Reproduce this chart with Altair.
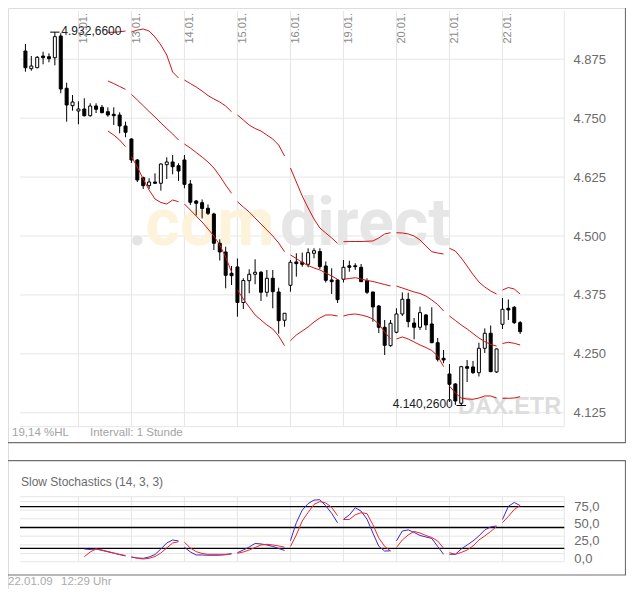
import altair as alt
import pandas as pd

# ---------------- data ----------------
opens = [4892.6, 4855.1, 4857.2, 4882.0, 4880.5, 4878.4, 4924.4, 4813.5, 4776.5,
         4765.3, 4769.5, 4755.3, 4775.9, 4773.1, 4763.8, 4758.3, 4756.8, 4733.5,
         4705.9, 4661.3, 4623.8, 4606.8, 4614.6, 4611.9, 4651.3, 4657.1, 4649.2,
         4661.3, 4610.4, 4574.3, 4570.7, 4558.8, 4546.7, 4484.6, 4466.1, 4420.9,
         4434.3, 4358.9, 4405.2, 4418.8, 4423.0, 4380.6, 4410.3, 4381.2, 4321.2,
         4395.4, 4444.9, 4444.2, 4440.0, 4463.3, 4467.2, 4436.4, 4406.7, 4406.7,
         4408.2, 4436.8, 4436.8, 4433.6, 4405.2, 4381.2, 4351.5, 4306.3, 4267.3,
         4295.7, 4334.5, 4365.7, 4315.4, 4306.3, 4332.4, 4313.3, 4273.6, 4240.5,
         4207.2, 4186.0, 4145.0, 4222.7, 4222.1, 4210.0, 4261.7, 4293.6, 4211.5,
         4312.7, 4346.6, 4348.7, 4316.1]
highs = [4907.5, 4882.0, 4882.0, 4891.1, 4887.7, 4932.66, 4930.2, 4825.3, 4799.2,
         4785.9, 4792.2, 4781.6, 4781.6, 4778.0, 4773.1, 4773.1, 4762.5, 4742.6,
         4707.4, 4663.4, 4625.9, 4622.5, 4633.1, 4654.3, 4667.0, 4671.9, 4654.3,
         4671.9, 4618.9, 4576.4, 4577.5, 4566.9, 4549.5, 4493.0, 4477.3, 4436.4,
         4452.3, 4410.3, 4429.4, 4450.6, 4425.8, 4427.9, 4427.9, 4390.3, 4336.6,
         4449.1, 4463.3, 4464.6, 4473.9, 4473.9, 4473.9, 4445.9, 4431.5, 4407.7,
         4449.1, 4447.6, 4442.1, 4440.6, 4410.3, 4381.8, 4353.6, 4321.8, 4321.8,
         4346.6, 4380.2, 4379.7, 4326.0, 4350.0, 4334.5, 4348.7, 4283.6, 4258.1,
         4228.4, 4187.5, 4224.2, 4236.9, 4234.8, 4273.6, 4303.8, 4310.1, 4261.3,
         4368.5, 4365.3, 4351.5, 4319.4]
lows = [4848.7, 4850.8, 4856.0, 4864.4, 4868.6, 4862.3, 4802.9, 4742.6, 4765.9,
        4737.1, 4753.6, 4753.2, 4761.0, 4760.4, 4753.2, 4735.6, 4718.0, 4709.5,
        4655.0, 4614.6, 4599.8, 4599.8, 4610.4, 4596.2, 4621.0, 4631.0, 4616.8,
        4601.3, 4565.8, 4543.6, 4537.2, 4544.6, 4470.3, 4448.0, 4389.0, 4396.0,
        4328.8, 4345.1, 4378.5, 4397.6, 4362.1, 4371.2, 4346.6, 4292.7, 4307.6,
        4381.8, 4413.7, 4434.9, 4433.6, 4452.7, 4430.0, 4401.4, 4377.0, 4357.9,
        4401.4, 4424.3, 4427.9, 4402.4, 4377.0, 4318.2, 4294.2, 4247.5, 4265.1,
        4293.6, 4330.3, 4306.3, 4280.8, 4300.6, 4300.6, 4272.4, 4233.7, 4229.9,
        4147.8, 4141.5, 4140.26, 4190.2, 4207.2, 4201.9, 4251.8, 4211.0, 4209.4,
        4302.7, 4321.8, 4313.3, 4292.1]
closes = [4857.2, 4860.8, 4879.2, 4878.4, 4876.3, 4923.0, 4812.0, 4778.0, 4784.4,
          4769.5, 4755.3, 4775.9, 4768.9, 4761.7, 4756.8, 4755.3, 4733.5, 4720.1,
          4661.3, 4618.9, 4606.8, 4614.6, 4611.9, 4652.8, 4657.1, 4647.1, 4638.0,
          4609.7, 4571.6, 4569.4, 4558.4, 4548.2, 4484.6, 4466.1, 4416.6, 4415.8,
          4358.9, 4405.6, 4418.8, 4423.0, 4380.6, 4410.3, 4381.8, 4320.3, 4336.0,
          4444.2, 4441.3, 4440.0, 4464.6, 4468.8, 4434.9, 4406.0, 4403.1, 4364.9,
          4433.6, 4433.6, 4434.9, 4403.1, 4380.6, 4349.4, 4306.3, 4268.1, 4314.8,
          4334.5, 4365.7, 4318.2, 4306.3, 4337.3, 4311.2, 4273.6, 4238.4, 4236.9,
          4185.3, 4149.9, 4222.7, 4219.3, 4210.0, 4261.7, 4293.6, 4212.1, 4260.3,
          4344.5, 4343.0, 4316.1, 4297.0]

candles_per_day = 9
day_names = ["09.01.", "12.01.", "13.01.", "14.01.", "15.01.", "16.01.",
             "19.01.", "20.01.", "21.01.", "22.01."]

band_start = 14
upper_band = [4932.3, 4932.3, 4933.5, 4935.0,
              4932.9, 4937.1, 4939.3, 4935.0, 4922.3, 4905.3, 4884.1, 4848.0, 4835.3,
              4831.0, 4823.6, 4816.2, 4807.7, 4798.1, 4790.7, 4784.4, 4775.9, 4763.8,
              4756.8, 4746.2, 4735.5, 4728.1, 4722.8, 4714.3, 4705.8, 4693.1, 4669.8,
              4644.3, 4614.6, 4584.9, 4559.4, 4536.1, 4517.0, 4506.4, 4495.8, 4484.5,
              4487.9, 4488.3, 4488.3, 4488.3, 4488.8, 4489.4, 4495.8, 4504.3, 4507.0,
              4507.0, 4506.4, 4504.3, 4500.0, 4491.5, 4478.8, 4466.7, 4463.9, 4461.8,
              4473.9, 4468.2, 4453.3, 4436.3, 4418.3, 4402.4, 4391.8, 4383.3, 4376.9,
              4385.4, 4390.7, 4387.5, 4376.9]
middle_band = [4828.9, 4823.6, 4817.2, 4811.3,
               4800.7, 4788.6, 4776.5, 4764.2, 4752.5, 4739.8, 4728.1, 4716.5, 4703.7,
               4695.2, 4686.7, 4677.2, 4667.6, 4657.0, 4644.3, 4627.3, 4608.2, 4590.6,
               4572.8, 4561.5, 4550.9, 4538.2, 4525.5, 4512.7, 4500.0, 4485.2, 4466.7,
               4459.7, 4452.3, 4443.8, 4437.4, 4432.1, 4427.9, 4421.5, 4415.1, 4408.1,
               4408.1, 4409.8, 4411.5, 4408.8, 4405.6, 4403.5, 4400.3, 4397.1, 4393.9,
               4393.9, 4389.7, 4385.4, 4381.2, 4378.0, 4372.7, 4364.2, 4354.6, 4340.9,
               4330.2, 4320.7, 4311.1, 4302.7, 4293.1, 4283.6, 4276.1, 4269.8, 4266.6,
               4271.9, 4274.4, 4272.3, 4268.7]
lower_band = [4722.8, 4714.3, 4703.7, 4689.5,
              4668.3, 4646.4, 4621.0, 4597.6, 4578.5, 4571.1, 4567.9, 4576.4, 4572.8,
              4567.9, 4555.2, 4542.4, 4529.7, 4514.9, 4500.0, 4480.9, 4455.4, 4423.6,
              4385.4, 4366.3, 4349.3, 4332.4, 4321.8, 4311.1, 4302.7, 4287.8, 4267.2,
              4277.8, 4289.9, 4298.4, 4306.9, 4317.5, 4326.0, 4332.4, 4332.4, 4330.2,
              4330.2, 4333.4, 4334.5, 4332.4, 4329.2, 4323.9, 4313.3, 4296.3, 4281.4,
              4281.4, 4285.7, 4281.4, 4275.1, 4268.7, 4263.4, 4257.0, 4245.4, 4222.7,
              4181.7, 4166.9, 4156.2, 4154.1, 4153.5, 4156.2, 4160.5, 4160.5, 4156.2,
              4155.6, 4155.6, 4156.2, 4159.0]

stoch_start = 10
stoch_k = [19.0, 18.3, 19.0, 17.0, 15.0, 13.0, 11.0, 9.0,
           7.1, 6.1, 5.6, 7.5, 11.1, 19.0, 27.7, 32.0, 30.6,
           21.5, 14.7, 10.4, 10.4, 10.0, 10.0, 10.0, 10.8, 12.6,
           13.7, 17.6, 21.9, 27.0, 26.3, 24.8, 22.7, 19.8, 16.9,
           31.0, 57.0, 75.0, 84.5, 89.5, 90.0, 81.2, 70.5, 56.8,
           62.0, 68.0, 78.5, 73.5, 62.0, 42.0, 23.0, 16.0, 16.5,
           30.6, 45.0, 46.5, 42.9, 38.5, 36.4, 34.2, 22.7, 11.4,
           11.4, 11.4, 19.0, 24.8, 30.6, 37.8, 46.5, 50.8, 52.2,
           61.6, 80.4, 86.1, 81.5]
stoch_d = [7.9, 14.7, 19.0, 17.6, 15.4, 13.3, 11.1, 9.7,
           7.9, 5.6, 4.6, 5.6, 8.2, 13.3, 20.5, 27.7, 29.6,
           28.7, 20.5, 15.2, 12.6, 11.4, 11.4, 11.4, 11.4, 11.8,
           12.8, 14.7, 17.6, 21.2, 24.8, 25.8, 24.8, 23.4, 21.5,
           22.7, 39.3, 59.5, 71.7, 83.3, 87.3, 85.4, 78.9, 67.1,
           61.5, 61.5, 68.3, 71.3, 70.0, 54.0, 35.0, 22.7, 16.2,
           21.2, 32.0, 39.3, 44.3, 42.1, 38.5, 35.6, 30.6, 20.1,
           13.7, 11.4, 14.0, 17.6, 23.4, 32.0, 37.8, 44.3, 51.2,
           57.0, 65.9, 76.0, 81.5]

price_ticks = [4125, 4250, 4375, 4500, 4625, 4750, 4875]
stoch_ticks = [0, 25, 50, 75]
stoch_levels = [20, 50, 80]
stoch_grid = [12.5, 25, 37.5, 62.5, 75, 87.5]
extremes_idx = [5, 74]
extremes_val = [4932.66, 4140.26]

# ---------------- tables ----------------
n = len(opens)
cdf = pd.DataFrame({"idx": list(range(n)), "open": opens, "high": highs,
                    "low": lows, "close": closes})

rows = []
for name, vals in (("upper", upper_band), ("middle", middle_band), ("lower", lower_band)):
    for k, v in enumerate(vals):
        i = band_start + k
        rows.append({"idx": i, "value": v, "band": name, "day": i // candles_per_day})
bdf = pd.DataFrame(rows)


def stoch_frame(vals):
    return pd.DataFrame([{"idx": stoch_start + k, "value": v,
                          "day": (stoch_start + k) // candles_per_day}
                         for k, v in enumerate(vals)])


kdf = stoch_frame(stoch_k)
ddf_s = stoch_frame(stoch_d)

day_starts = [candles_per_day * d for d in range(len(day_names))]
labels_df = pd.DataFrame({"idx": day_starts[1:], "label": day_names[1:]})

XMIN, XMAX = -0.92, 91.5
PMIN, PMAX = 4095.3, 4977.5
SMIN, SMAX = 0.7, 94.4
gridx_df = pd.DataFrame({"idx": day_starts[1:] + [XMAX]})
hgrid_p = pd.DataFrame({"v": price_ticks + [PMIN]})
hgrid_s = pd.DataFrame({"v": stoch_grid + [SMIN, SMAX]})
levels_df = pd.DataFrame({"v": stoch_levels})


def de_fmt(v):
    s = f"{v:,.4f}"
    return s.replace(",", "X").replace(".", ",").replace("X", ".")


ext_df = pd.DataFrame({"idx": extremes_idx, "price": extremes_val,
                       "label": [de_fmt(v) for v in extremes_val]})
one = pd.DataFrame({"d": [0]})

# ---------------- layout (page coords minus the 8px body margin) ----------------
W, H = 618, 581
OX, OY = -8, -8


def px(x):
    return x + OX


def py(y):
    return y + OY


X = alt.Scale(domain=[XMIN, XMAX], range=[px(15), px(569.3)], nice=False, zero=False)
YP = alt.Scale(domain=[PMIN, PMAX], range=[py(426.7), py(11)], nice=False, zero=False)
YS = alt.Scale(domain=[0, 100], range=[py(562.2), py(492.8)], nice=False, zero=False)
GRID = "#e6e6e6"
LBL = "#6b6b6b"
AX_OFF = px(569.3) - W

axP = alt.Axis(orient="right", offset=AX_OFF, values=price_ticks, grid=False,
               domain=False, ticks=False, labelPadding=3.7, labelFontSize=13,
               labelColor=LBL, title=None,
               labelExpr="replace(format(datum.value, ',.0f'), ',', '.')")
axS = alt.Axis(orient="right", offset=AX_OFF, values=stoch_ticks, grid=False,
               domain=False, ticks=False, labelPadding=4.5, labelOffset=-4,
               labelFontSize=13, labelColor=LBL, title=None,
               labelExpr="replace(format(datum.value, '.1f'), '.', ',')")

xi = alt.X("idx:Q", scale=X, axis=None)


def text_at(txt, x, y, size, color, weight="normal", font="Liberation Sans", align="left"):
    return alt.Chart(one).mark_text(text=txt, align=align, baseline="alphabetic",
                                    fontSize=size, color=color, fontWeight=weight,
                                    font=font).encode(x=alt.value(x), y=alt.value(y))


def frame(x1, x2, y1, y2):
    return alt.Chart(one).mark_rect(fillOpacity=0, stroke="#707070", strokeWidth=1.2).encode(
        x=alt.value(x1), x2=alt.value(x2), y=alt.value(y1), y2=alt.value(y2))


# ---------------- price panel ----------------
p_hgrid = alt.Chart(hgrid_p).mark_rule(color=GRID, strokeWidth=1).encode(
    y=alt.Y("v:Q", scale=YP, axis=axP),
    x=alt.XDatum(XMIN, axis=None), x2=alt.X2Datum(XMAX))
p_vgrid = alt.Chart(gridx_df).mark_rule(color=GRID, strokeWidth=1).encode(
    x=xi, y=alt.YDatum(PMAX, axis=axP), y2=alt.Y2Datum(PMIN))

wm_font = "Roboto"
wm = [
    text_at(".", px(128), py(245), 66, "#e4e4e4", "bold", wm_font),
    text_at("com", px(145.5), py(245), 66, "#fdf3da", "bold", wm_font),
    text_at("direct", px(280), py(245), 66, "#e6e6e6", "bold", wm_font),
    text_at("DAX.ETR", px(458), py(414), 23.5, "#dddddd", "bold"),
]

bands = alt.Chart(bdf).mark_line(color="#d41414", strokeWidth=1).encode(
    x=xi, y=alt.Y("value:Q", scale=YP, axis=axP), detail=["band:N", "day:Q"])

wicks = alt.Chart(cdf).mark_rule(color="black", strokeWidth=1).encode(
    x=xi, y=alt.Y("low:Q", scale=YP, axis=axP), y2="high:Q")
bodies = alt.Chart(cdf).mark_bar(size=3, stroke="black", strokeWidth=1).encode(
    x=xi, y=alt.Y("open:Q", scale=YP, axis=axP), y2="close:Q",
    fill=alt.condition(alt.datum.close >= alt.datum.open,
                       alt.value("white"), alt.value("black")))

markers = alt.Chart(ext_df).transform_calculate(
    a="datum.idx - 0.8", b="datum.idx + 0.8").mark_rule(color="black", strokeWidth=1).encode(
    x=alt.X("a:Q", scale=X, axis=None), x2="b:Q",
    y=alt.Y("price:Q", scale=YP, axis=axP))
hi_txt = alt.Chart(ext_df).transform_filter(alt.datum.idx == extremes_idx[0]).mark_text(
    align="left", baseline="middle", dx=6.5, dy=-1.5, fontSize=12, color="#222222").encode(
    x=xi, y=alt.Y("price:Q", scale=YP, axis=axP), text="label:N")
lo_txt = alt.Chart(ext_df).transform_filter(alt.datum.idx == extremes_idx[1]).mark_text(
    align="right", baseline="middle", dx=-8.5, dy=-1.5, fontSize=12, color="#222222").encode(
    x=xi, y=alt.Y("price:Q", scale=YP, axis=axP), text="label:N")

dates = alt.Chart(labels_df).mark_text(angle=270, align="right", baseline="alphabetic",
                                       dy=8.5, fontSize=11, color="#8a8a8a").encode(
    x=xi, y=alt.value(py(13)), text="label:N")

price_panel = alt.layer(p_hgrid, p_vgrid, *wm, wicks, bodies, bands, markers,
                        hi_txt, lo_txt, dates)

# ---------------- stochastics panel ----------------
s_hgrid = alt.Chart(hgrid_s).mark_rule(color=GRID, strokeWidth=1).encode(
    y=alt.Y("v:Q", scale=YS, axis=axS),
    x=alt.XDatum(XMIN, axis=None), x2=alt.X2Datum(XMAX))
s_vgrid = alt.Chart(gridx_df).mark_rule(color=GRID, strokeWidth=1).encode(
    x=xi, y=alt.YDatum(SMAX, axis=axS), y2=alt.Y2Datum(SMIN))
s_levels = alt.Chart(levels_df).mark_rule(color="black", strokeWidth=1.3).encode(
    y=alt.Y("v:Q", scale=YS, axis=axS),
    x=alt.XDatum(XMIN, axis=None), x2=alt.X2Datum(XMAX))
k_line = alt.Chart(kdf).mark_line(color="#3d2cc4", strokeWidth=1).encode(
    x=xi, y=alt.Y("value:Q", scale=YS, axis=axS), detail="day:Q")
d_line = alt.Chart(ddf_s).mark_line(color="#f5222d", strokeWidth=1).encode(
    x=xi, y=alt.Y("value:Q", scale=YS, axis=axS), detail="day:Q")

stoch_panel = alt.layer(s_hgrid, s_vgrid, s_levels, k_line, d_line)

# ---------------- static texts / frames ----------------
extras = [
    frame(px(0.5), W - 0.5, py(-5), py(442.7)),
    frame(px(0.5), W - 0.5, py(460.7), py(575)),
    text_at("19,14 %HL", px(12), py(435.5), 11.5, "#a3a3a3"),
    text_at("Intervall: 1 Stunde", px(90), py(435.5), 11.5, "#a3a3a3"),
    text_at("Slow Stochastics (14, 3, 3)", px(21), py(486), 12, "#6b6b6b"),
    text_at("22.01.09", 0, H - 4, 11.5, "#ababab"),
    text_at("12:29 Uhr", px(61), H - 4, 11.5, "#ababab"),
]

chart = alt.layer(price_panel, stoch_panel, *extras).resolve_scale(
    y="independent"
).properties(
    width=W, height=H,
    autosize=alt.AutoSizeParams(type="none"),
    padding=0,
).configure_view(strokeWidth=0).configure(font="Liberation Sans", background="white")

chart.save("out.html", embed_options={"renderer": "svg", "actions": False})
